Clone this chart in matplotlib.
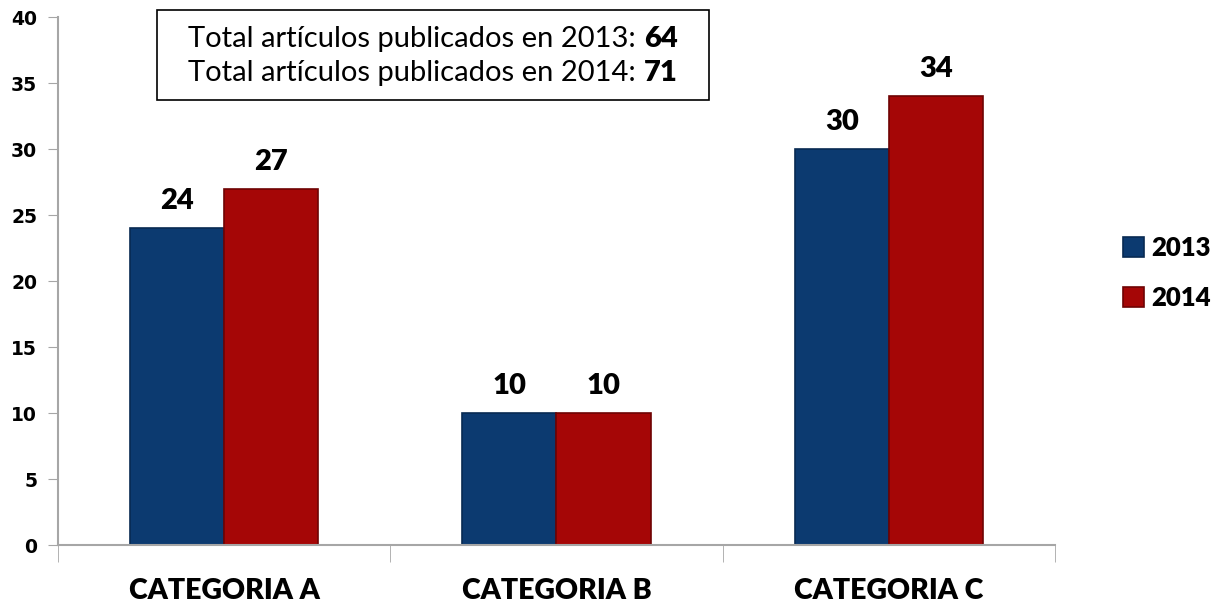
import numpy as np
import matplotlib.pyplot as plt
from matplotlib.patches import Rectangle
from matplotlib.offsetbox import TextArea, HPacker, VPacker, AnchoredOffsetbox

# Datos
categorias = ["CATEGORIA A", "CATEGORIA B", "CATEGORIA C"]
anios = ["2013", "2014"]
valores_2013 = [24, 10, 30]
valores_2014 = [27, 10, 34]
totales = [64, 71]

azul = "#0c3a70"
rojo = "#a50606"
gris = "#a6a6a6"
fuente = "Lato"

fig = plt.figure(figsize=(12.24, 6.08), dpi=100)
ax = fig.add_axes([0.0474, 0.1036, 0.8145, 0.8684])

x = np.arange(len(categorias))
ancho = 0.283

b1 = ax.bar(x - ancho / 2, valores_2013, ancho, color=azul, edgecolor="#082a52",
            linewidth=1.2, label=anios[0])
b2 = ax.bar(x + ancho / 2, valores_2014, ancho, color=rojo, edgecolor="#6e0303",
            linewidth=1.2, label=anios[1])

# Etiquetas de valores
for barras in (b1, b2):
    for b in barras:
        ax.annotate(str(int(b.get_height())), (b.get_x() + b.get_width() / 2, b.get_height()),
                    xytext=(0, 10), textcoords="offset points", ha="center", va="bottom",
                    fontsize=21, fontweight="heavy", family=fuente)

ax.set_xlim(-0.5, 2.5)
ax.set_ylim(0, 40)
ax.set_yticks(range(0, 41, 5))
ax.tick_params(axis="y", length=7, color=gris, labelsize=13.5, pad=8)
for lab in ax.get_yticklabels():
    lab.set_fontweight("bold")

ax.set_xticks(x)
ax.set_xticklabels(categorias, fontsize=20.5, fontweight="heavy", family=fuente)
ax.tick_params(axis="x", length=0, pad=24)
ax.set_xticks([-0.5, 0.5, 1.5, 2.5], minor=True)
ax.tick_params(axis="x", which="minor", length=12, color=gris)

for s in ["top", "right"]:
    ax.spines[s].set_visible(False)
for s in ["left", "bottom"]:
    ax.spines[s].set_color(gris)
    ax.spines[s].set_linewidth(1.5)

# Leyenda
ax.legend(loc="center left", bbox_to_anchor=(1.045, 0.515), frameon=False,
          prop={"family": fuente, "weight": "heavy", "size": 18.5},
          handlelength=0.8, handleheight=0.8, handletextpad=0.3, labelspacing=1.0)

# Cuadro de totales
fig.add_artist(Rectangle((157 / 1224, 1 - 100 / 608), (709 - 157) / 1224, 90 / 608,
                         transform=fig.transFigure, fill=False, edgecolor="black", linewidth=1.2))
filas = []
for anio, total in zip(anios, totales):
    t1 = TextArea("Total artículos publicados en %s: " % anio,
                  textprops=dict(fontsize=21, family=fuente))
    t2 = TextArea(str(total), textprops=dict(fontsize=21, family=fuente, fontweight="heavy"))
    filas.append(HPacker(children=[t1, t2], align="baseline", pad=0, sep=0))
caja = VPacker(children=filas, align="center", pad=0, sep=6)
anc = AnchoredOffsetbox(loc="center", child=caja, pad=0, borderpad=0, frameon=False,
                        bbox_to_anchor=(433 / 1224, 1 - 56 / 608), bbox_transform=fig.transFigure)
ax.add_artist(anc)

fig.savefig("out.png", dpi=100)
